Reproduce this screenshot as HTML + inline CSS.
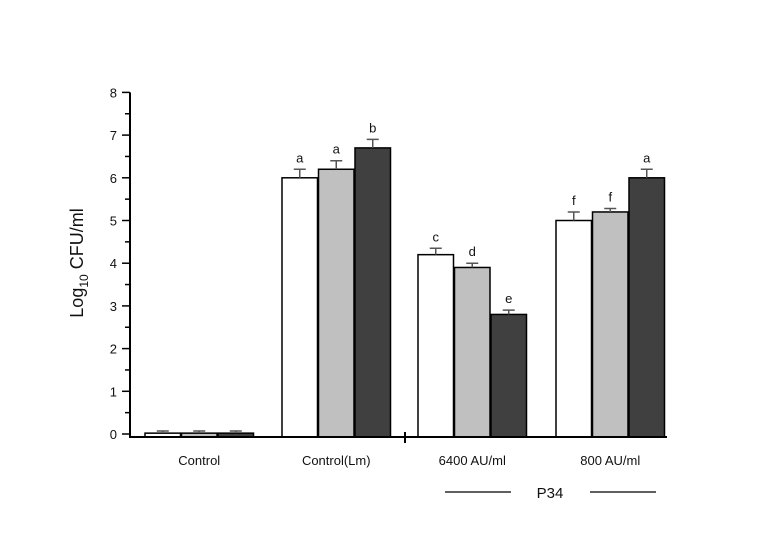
<!DOCTYPE html>
<html><head><meta charset="utf-8"><style>
body{margin:0;background:#fff;}
svg text{font-family:"Liberation Sans",Arial,sans-serif;fill:#111;}
</style></head><body>
<svg id="chart" width="757" height="536" viewBox="0 0 757 536"></svg>
<script>
const groups=["Control","Control(Lm)","6400 AU/ml","800 AU/ml"];
const seriesA=[0.02,6.0,4.2,5.0];
const seriesB=[0.02,6.2,3.9,5.2];
const seriesC=[0.02,6.7,2.8,6.0];
const errA=[0.05,0.2,0.15,0.2];
const errB=[0.05,0.2,0.1,0.08];
const errC=[0.05,0.2,0.1,0.2];
const lettersA=["","a","c","f"];
const lettersB=["","a","d","f"];
const lettersC=["","b","e","a"];
const yTicks=[0,1,2,3,4,5,6,7,8];

const svg=document.getElementById('chart');
const NS="http://www.w3.org/2000/svg";
function mk(tag,attrs,parent){const e=document.createElementNS(NS,tag);for(const k in attrs)e.setAttribute(k,attrs[k]);(parent||svg).appendChild(e);return e;}
const y0=434,unit=42.7,axX=130,axEnd=667,axY=437;
const yS=v=>y0-v*unit;
const groupStart=[145,282,418,556];
const bw=35.5;
const fills=["#ffffff","#c0c0c0","#404040"];
const series=[seriesA,seriesB,seriesC],errs=[errA,errB,errC],lets=[lettersA,lettersB,lettersC];

// bars
for(let g=0;g<groups.length;g++){
 for(let s=0;s<3;s++){
  const x=groupStart[g]+s*(bw+1);
  const v=series[s][g],e=errs[s][g];
  const top=yS(v);
  const bar=mk('rect',{x:x,y:top,width:bw,height:Math.max(axY-top,1),fill:fills[s],stroke:'#000','stroke-width':1.5});
  
  
  const cx=x+bw/2,et=yS(v+e);
  const eb=mk('path',{d:`M${cx} ${top}V${et}M${cx-6} ${et}H${cx+6}`,stroke:'#555','stroke-width':1.5,fill:'none'});
  
  
  if(lets[s][g]){const t=mk('text',{x:cx,y:et-7,'text-anchor':'middle','font-size':13});t.textContent=lets[s][g];
   
   }
 }
 const gl=mk('text',{x:groupStart[g]+1.5*bw+1,y:465,'text-anchor':'middle','font-size':13});
 gl.textContent=groups[g];
 
 
}
// axes
const ax=mk('path',{d:`M${axX} ${yS(8)}V${axY}H${axEnd}M405 ${axY-5}V${axY+6}`,stroke:'#000','stroke-width':2,fill:'none'});


yTicks.forEach(v=>{
 mk('line',{x1:axX-8,x2:axX,y1:yS(v),y2:yS(v),stroke:'#000','stroke-width':1.5});
 mk('line',{x1:axX-5,x2:axX,y1:yS(v+0.5),y2:yS(v+0.5),stroke:'#000','stroke-width':1.5,opacity:v<8?1:0});
 const t=mk('text',{x:axX-13,y:yS(v)+5,'text-anchor':'end','font-size':13});t.textContent=v;
 
 
});
const yt=mk('text',{transform:'translate(83,263) rotate(-90)','text-anchor':'middle','font-size':18});
yt.innerHTML='Log<tspan font-size="12" dy="5">10</tspan><tspan dy="-5"> CFU/ml</tspan>';


const p=mk('path',{d:'M445 492H511M590 492H656',stroke:'#000','stroke-width':1.2});


const pt=mk('text',{x:550,y:498,'text-anchor':'middle','font-size':15});pt.textContent='P34';


</script>
</body></html>
